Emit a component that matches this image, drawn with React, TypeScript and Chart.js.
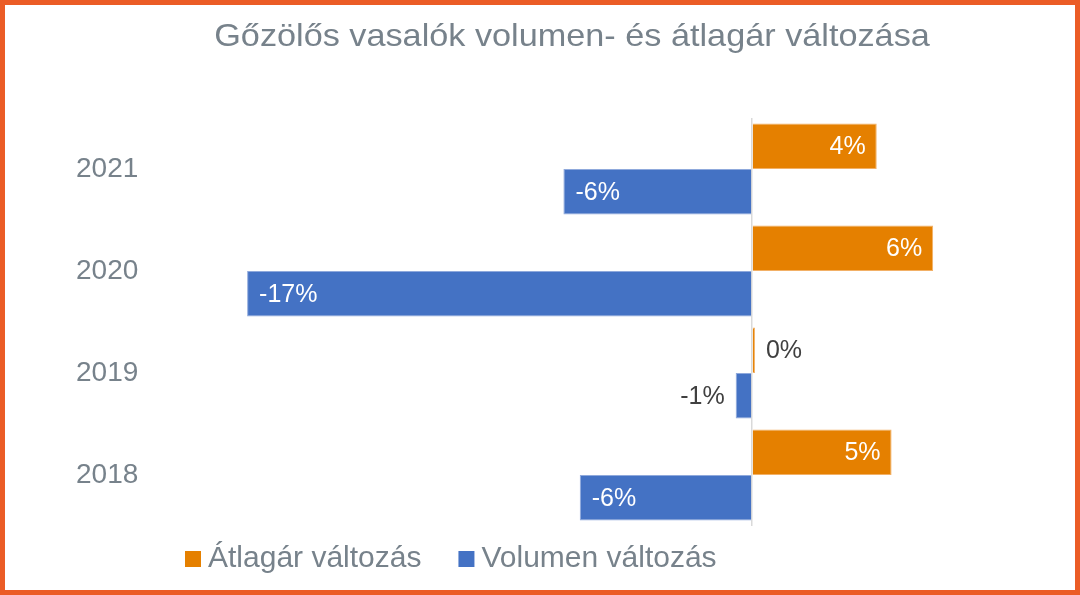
import React, { useEffect, useRef } from "react";
import { Chart, registerables } from "chart.js";

Chart.register(...registerables);

const categories = ["2021", "2020", "2019", "2018"];
const seriesNames = ["Átlagár változás", "Volumen változás"];
const priceChange = [4.2, 6.1, 0.1, 4.7];
const volumeChange = [-6.35, -17.0, -0.55, -5.8];
const seriesColors = ["#E58000", "#4472C4"];
const seriesEdges = ["#F2B066", "#8FA9DC"];
const titleText = "Gőzölős vasalók volumen- és átlagár változása";
const xMin = -20;
const xMax = 10;

const FONT = '"Liberation Sans", Arial, sans-serif';
const TEXT_GRAY = "#77828B";
const FRAME_COLOR = "#EB5C26";

const dataLabelPlugin = {
  id: "dataLabels",
  afterDatasetsDraw(chart: any) {
    const ctx = chart.ctx;
    ctx.save();
    ctx.font = `25px ${FONT}`;
    ctx.textBaseline = "middle";
    chart.data.datasets.forEach((ds: any, i: number) => {
      const meta = chart.getDatasetMeta(i);
      meta.data.forEach((bar: any, j: number) => {
        const v = ds.data[j] as number;
        let r = Math.round(v);
        if (Object.is(r, -0)) r = 0;
        const label = `${r}%`;
        const w = ctx.measureText(label).width;
        const { x, base, y } = bar.getProps(["x", "base", "y"], true);
        const len = Math.abs(x - base);
        const pad = 11;
        if (len >= w + 2 * pad) {
          ctx.fillStyle = "#FFFFFF";
          if (v >= 0) {
            ctx.textAlign = "right";
            ctx.fillText(label, x - pad, y + 1);
          } else {
            ctx.textAlign = "left";
            ctx.fillText(label, x + pad + 1, y + 1);
          }
        } else {
          ctx.fillStyle = "#404040";
          if (v >= 0) {
            ctx.textAlign = "left";
            ctx.fillText(label, Math.max(x, base) + pad, y + 1);
          } else {
            ctx.textAlign = "right";
            ctx.fillText(label, Math.min(x, base) - pad, y + 1);
          }
        }
      });
    });
    ctx.restore();
  },
};

const decorPlugin = {
  id: "decor",
  afterDraw(chart: any) {
    const ctx = chart.ctx;
    ctx.save();
    // title
    ctx.fillStyle = TEXT_GRAY;
    ctx.font = `32px ${FONT}`;
    ctx.textAlign = "center";
    ctx.textBaseline = "alphabetic";
    ctx.save();
    ctx.translate(572, 46);
    ctx.scale(1.07, 1);
    ctx.fillText(titleText, 0, 0);
    ctx.restore();
    // legend
    ctx.font = `30px ${FONT}`;
    ctx.textAlign = "left";
    let lx = 185;
    seriesNames.forEach((name, i) => {
      ctx.fillStyle = seriesColors[i];
      ctx.fillRect(lx, 551, 16, 16);
      ctx.fillStyle = TEXT_GRAY;
      ctx.fillText(name, lx + 23, 567);
      lx += 23 + ctx.measureText(name).width + 37;
    });
    ctx.restore();
  },
};

export default function App() {
  const canvasRef = useRef<HTMLCanvasElement | null>(null);

  useEffect(() => {
    if (!canvasRef.current) return;
    const chart = new Chart(canvasRef.current, {
      type: "bar",
      data: {
        labels: categories,
        datasets: [
          {
            label: seriesNames[0],
            data: priceChange,
            backgroundColor: seriesColors[0],
            borderColor: seriesEdges[0],
            borderWidth: 1,
            categoryPercentage: 0.89,
            barPercentage: 1,
          },
          {
            label: seriesNames[1],
            data: volumeChange,
            backgroundColor: seriesColors[1],
            borderColor: seriesEdges[1],
            borderWidth: 1,
            categoryPercentage: 0.89,
            barPercentage: 1,
          },
        ],
      },
      options: {
        indexAxis: "y",
        responsive: false,
        animation: false,
        layout: { padding: { left: 76, right: 31, top: 118, bottom: 69 } },
        plugins: {
          legend: { display: false },
          title: { display: false },
          tooltip: { enabled: false },
        },
        scales: {
          x: {
            min: xMin,
            max: xMax,
            ticks: { display: false, stepSize: 5 },
            grid: {
              drawTicks: false,
              lineWidth: 1.5,
              color: (c: any) => (c.tick && c.tick.value === 0 ? "#D9D9D9" : "rgba(0,0,0,0)"),
            },
            border: { display: false },
          },
          y: {
            grid: { display: false },
            border: { display: false },
            ticks: {
              font: { size: 28, family: FONT },
              color: TEXT_GRAY,
              crossAlign: "far",
              padding: 0,
            },
            afterFit: (s: any) => {
              s.width = 82;
            },
          },
        },
      },
      plugins: [dataLabelPlugin, decorPlugin],
    } as any);
    return () => chart.destroy();
  }, []);

  return (
    <div style={{ position: "fixed", left: 0, top: 0, width: 1080, height: 595, background: "#FFFFFF" }}>
      <canvas
        ref={canvasRef}
        width={1080}
        height={595}
        style={{ position: "absolute", left: 0, top: 0, width: 1080, height: 595 }}
      />
      <div
        style={{
          position: "absolute",
          left: 0,
          top: 0,
          width: 1080,
          height: 595,
          boxSizing: "border-box",
          border: `5px solid ${FRAME_COLOR}`,
          pointerEvents: "none",
        }}
      />
    </div>
  );
}
